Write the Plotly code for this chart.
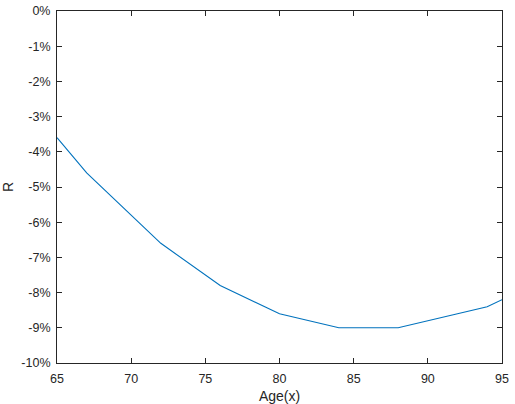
import plotly.graph_objects as go

age = [65, 67, 72, 76, 80, 84, 88, 94, 95]
r_pct = [-3.6, -4.6, -6.6, -7.8, -8.6, -9.0, -9.0, -8.4, -8.2]

x_ticks = [65, 70, 75, 80, 85, 90, 95]
y_ticks = [0, -1, -2, -3, -4, -5, -6, -7, -8, -9, -10]
y_labels = [f"{v}%" for v in y_ticks]

fig = go.Figure(go.Scatter(x=age, y=r_pct, mode="lines",
                           line=dict(color="#0072BD", width=1.1)))

axis_common = dict(showline=True, linecolor="#262626", linewidth=1, mirror="ticks",
                   ticks="inside", ticklen=5, tickcolor="#262626", tickwidth=1,
                   showgrid=False, zeroline=False, automargin=False,
                   tickfont=dict(family="Liberation Sans, Arial", size=12.5, color="#262626"))

fig.update_layout(
    width=515, height=404,
    margin=dict(l=57, r=13, t=11, b=41),
    plot_bgcolor="white", paper_bgcolor="white",
    showlegend=False,
    xaxis=dict(range=[65, 95], tickvals=x_ticks, ticktext=[str(v) for v in x_ticks],
               ticklabelstandoff=4,
               title=dict(text="Age(x)", standoff=6,
                          font=dict(family="Liberation Sans, Arial", size=14, color="#262626")),
               **axis_common),
    yaxis=dict(range=[-10, 0], tickvals=y_ticks, ticktext=y_labels,
               ticklabelstandoff=3,
               title=dict(text="R", standoff=7,
                          font=dict(family="Liberation Sans, Arial", size=14, color="#262626")),
               **axis_common),
)

fig.write_html("out.html")
